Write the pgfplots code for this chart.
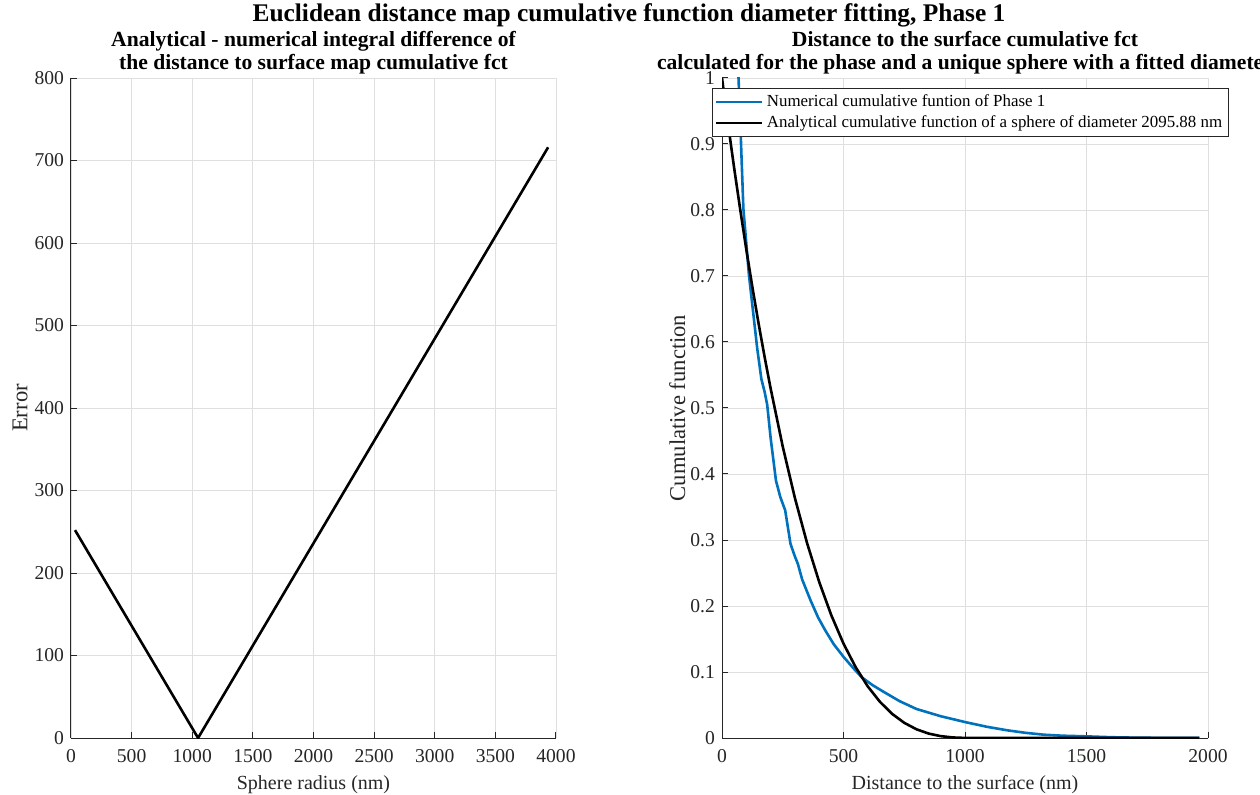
\documentclass[border=0pt]{standalone}
\usepackage{fontspec}
\setmainfont{Liberation Serif}
\usepackage{pgfplots}
\pgfplotsset{compat=1.18}
\definecolor{mblue}{RGB}{0,114,189}
\definecolor{axgray}{RGB}{38,38,38}
\definecolor{gridgray}{RGB}{223,223,223}
\begin{document}
\begin{tikzpicture}
\useasboundingbox (0,0) rectangle (630pt,397pt);
\pgfplotsset{
  mystyle/.style={
    scale only axis,
    anchor=south west,
    axis x line*=bottom,
    axis y line*=left,
    axis line style={axgray,-,line width=0.5pt},
    tick style={axgray,line width=0.5pt},
    tick align=inside,
    major tick length=3pt,
    grid=major,
    major grid style={gridgray,line width=0.4pt},
    ticklabel style={font=\fontsize{9.8}{11}\selectfont, text=axgray},
    xticklabel style={yshift=-2pt},
    xlabel style={font=\fontsize{10}{12}\selectfont, text=axgray, at={(rel axis cs:0.5,-0.07)}, anchor=center},
    ylabel style={font=\fontsize{11.3}{13}\selectfont, text=axgray, anchor=center},
    /pgf/number format/assume math mode=true,
    scaled ticks=false,
    clip mode=individual,
  }
}
\begin{axis}[mystyle,
  at={(35.5pt,28pt)}, width=242.5pt, height=330pt,
  xmin=0, xmax=4000, ymin=0, ymax=800,
  xtick={0,500,...,4000}, ytick={0,100,...,800},
  /pgf/number format/.cd, 1000 sep={}, /pgfplots/.cd,
  xlabel={Sphere radius (nm)}, ylabel={Error},
  ylabel style={at={(rel axis cs:-0.105,0.5)}},
]
\addplot[black, line width=1.3pt] coordinates {(33,252) (1048,0) (3935,716)};
\end{axis}
\begin{axis}[mystyle,
  at={(361pt,28pt)}, width=243pt, height=330pt,
  xmin=0, xmax=2000, ymin=0, ymax=1,
  xtick={0,500,...,2000}, ytick={0,0.1,...,1.0},
  yticklabels={0,0.1,0.2,0.3,0.4,0.5,0.6,0.7,0.8,0.9,1},
  /pgf/number format/.cd, 1000 sep={}, /pgfplots/.cd,
  xlabel={Distance to the surface (nm)}, ylabel={Cumulative function},
  ylabel style={at={(rel axis cs:-0.092,0.5)}},
  legend style={at={(rel axis cs:-0.0206,0.985)}, anchor=north west,
    font=\fontsize{8.45}{10}\selectfont, draw=axgray, fill=white,
    cells={anchor=west}, inner sep=1.2pt, row sep=-1pt},
  legend image code/.code={\draw[#1] (0cm,0cm) -- (0.8cm,0cm);},
]
\addplot[mblue, line width=1.3pt] coordinates {
(50,1.15) (68,1.0) (77,0.914) (88,0.802) (111,0.701) (145,0.590) (162,0.544)
(175,0.525) (186,0.505) (200,0.455) (222,0.39) (240,0.365) (260,0.345)
(282,0.294) (300,0.275) (312,0.264) (330,0.24) (342,0.229) (365,0.208)
(395,0.183) (425,0.163) (460,0.142) (500,0.123) (540,0.106) (575,0.092)
(620,0.080) (665,0.070) (730,0.056) (800,0.044) (900,0.033) (1002,0.024)
(1090,0.017) (1175,0.0116) (1250,0.0078) (1325,0.005) (1400,0.0035)
(1500,0.0025) (1600,0.0012) (1700,0.0005) (1800,0.0002) (1964,0)};
\addlegendentry{Numerical cumulative funtion of Phase 1}
\addplot[black, line width=1.3pt] coordinates {
(0,1) (25,0.930) (50,0.8636) (75,0.8006) (100,0.7402) (125,0.6831) (150,0.6291)
(175,0.5780) (200,0.5298) (250,0.4415) (300,0.3636) (350,0.2954) (400,0.2364)
(450,0.1858) (500,0.1430) (550,0.1073) (600,0.0781) (650,0.0548) (700,0.0366)
(750,0.0230) (800,0.01325) (850,0.00674) (900,0.00282) (950,0.00082)
(1000,0.0001) (1048,0) (1964,0)};
\addlegendentry{Analytical cumulative function of a sphere of diameter 2095.88 nm}
\end{axis}
\node[anchor=base, font=\fontsize{12.7}{14}\selectfont\bfseries] at (314.5pt,386pt)
  {Euclidean distance map cumulative function diameter fitting, Phase 1};
\node[anchor=base, font=\fontsize{10.8}{12}\selectfont\bfseries] at (156.75pt,373.5pt)
  {Analytical - numerical integral difference of};
\node[anchor=base, font=\fontsize{10.8}{12}\selectfont\bfseries] at (156.75pt,362pt)
  {the distance to surface map cumulative fct};
\node[anchor=base, font=\fontsize{10.8}{12}\selectfont\bfseries] at (482.5pt,373.5pt)
  {Distance to the surface cumulative fct};
\node[anchor=base, font=\fontsize{10.8}{12}\selectfont\bfseries] at (482.5pt,362pt)
  {calculated for the phase and a unique sphere with a fitted diameter};
\end{tikzpicture}
\end{document}
